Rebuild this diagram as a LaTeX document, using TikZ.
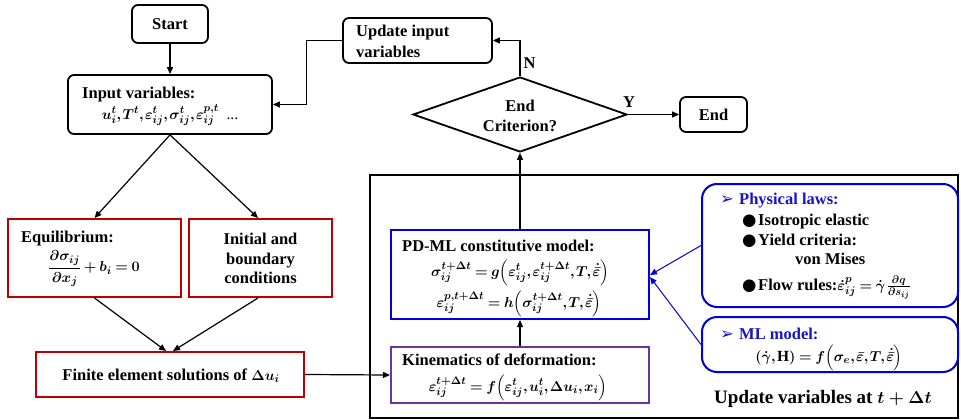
\documentclass[tikz,border=0pt]{standalone}
\usepackage{amsmath}
\usepackage{fontspec}
\setmainfont{Liberation Serif}
\newfontfamily\symfont{DejaVu Sans}
\usetikzlibrary{arrows.meta,shapes.geometric,calc}

\definecolor{boxred}{RGB}{192,0,0}
\definecolor{boxblue}{RGB}{0,0,224}
\definecolor{boxpurple}{RGB}{112,48,160}
\definecolor{lawblue}{RGB}{20,20,200}

\newcommand\figfont{\fontsize{16.5}{19.5}\selectfont\bfseries\boldmath}
\newcommand\bigfigfont{\fontsize{19}{22}\selectfont\bfseries\boldmath}
% slightly smaller, tighter setting for the formulas
\newcommand\eqnfont{\fontsize{15.5}{18}\selectfont\bfseries\boldmath
  \thinmuskip=1.5mu \medmuskip=3mu plus 1mu \thickmuskip=4mu plus 2mu}
% tall, tight parentheses around function arguments
\newcommand\args[1]{\Bigl(#1\Bigr)}

\tikzset{
  every node/.style={font=\figfont, inner sep=0pt},
  roundbox/.style={draw, line width=1.8pt, rounded corners=6pt},
  redbox/.style={draw=boxred, line width=2pt},
  bluebox/.style={draw=boxblue, line width=2pt},
  purplebox/.style={draw=boxpurple, line width=2pt},
  lawbox/.style={draw=boxblue, line width=2pt, rounded corners=15pt},
  decision/.style={diamond, draw, line width=1.8pt},
  outerbox/.style={draw, line width=2.5pt},
  arr/.style={-{Triangle[length=7pt,width=6pt]}, line width=1.2pt},
  bluearr/.style={-{Triangle[length=7pt,width=6pt]}, draw=boxblue, line width=1pt},
  txt/.style={anchor=base},
  txtl/.style={anchor=base west},
  eqn/.style={anchor=base, font=\eqnfont},
}

\begin{document}
\begin{tikzpicture}[x=1pt, y=-1pt]
\useasboundingbox (0,0) rectangle (961,420);

% ---- boxes ----
\node[roundbox, minimum width=76, minimum height=38] (start) at (170,24) {};
\node[roundbox, minimum width=204, minimum height=59] (inp) at (170,104.5) {};
\node[roundbox, minimum width=149, minimum height=45] (upd) at (417.5,40.5) {};
\node[decision, minimum width=214, minimum height=75] (dia) at (520,114.5) {};
\node[roundbox, minimum width=67, minimum height=35] (endb) at (713.5,114.5) {};
\node[redbox, minimum width=173, minimum height=78] (eq) at (94.5,258) {};
\node[redbox, minimum width=143, minimum height=78] (ini) at (260.5,258) {};
\node[redbox, minimum width=268, minimum height=45] (fe) at (170,374.5) {};
\node[outerbox, minimum width=588, minimum height=243] (outer) at (664,296.5) {};
\node[bluebox, minimum width=258, minimum height=89] (pd) at (520,274.5) {};
\node[purplebox, minimum width=258, minimum height=56] (kin) at (520,375) {};
\node[lawbox, minimum width=256, minimum height=123] (phys) at (830,245.5) {};
\node[lawbox, minimum width=256, minimum height=55] (ml) at (830,344.5) {};

% ---- texts ----
\node (tStart) at (170,24) {Start};
\node[txtl] (tInpA) at (82,98) {Input variables:};
\node[eqn] (tInpB) at (170,119) {$u_i^t, T^t, \varepsilon_{ij}^t, \sigma_{ij}^t, \varepsilon_{ij}^{p,t}$\ \ {\mdseries ...}};
\node[txtl] (tUpdA) at (356,37) {Update input};
\node[txtl] (tUpdB) at (356,58) {variables};
\node[txt] (tDiaA) at (520,111) {End};
\node[txt] (tDiaB) at (520,131) {Criterion?};
\node (tEnd) at (713.5,115) {End};
\node (tN) at (529.5,63) {N};
\node (tY) at (629,102) {Y};

\node[txtl] (tEqA) at (21,242) {Equilibrium:};
\node[font=\eqnfont] (tEqB) at (94,269) {$\dfrac{\partial\sigma_{ij}}{\partial x_j} + b_i = 0$};
\node[txt] (tIniA) at (260.5,244) {Initial and};
\node[txt] (tIniB) at (260.5,264) {boundary};
\node[txt] (tIniC) at (260.5,283) {conditions};
\node[txt] (tFe) at (171,380) {Finite element solutions of {\eqnfont$\Delta u_i$}};

\node[txtl] (tPdA) at (402,251) {PD-ML constitutive model:};
\node[eqn] (tPdB) at (520,276) {$\sigma_{ij}^{t+\Delta t} = g\args{\varepsilon_{ij}^t, \varepsilon_{ij}^{t+\Delta t}, T, \dot{\bar{\varepsilon}}}$};
\node[eqn] (tPdC) at (519,307) {$\varepsilon_{ij}^{p,t+\Delta t} = h\args{\sigma_{ij}^{t+\Delta t}, T, \dot{\bar{\varepsilon}}}$};
\node[txtl] (tKinA) at (402,365) {Kinematics of deformation:};
\node[eqn] (tKinB) at (518,391) {$\varepsilon_{ij}^{t+\Delta t} = f\args{\varepsilon_{ij}^t, u_i^t, \Delta u_i, x_i}$};

\node[txtl, text=lawblue] (tPhA) at (720,204) {{\symfont\mdseries ➢}};
\node[txtl, text=lawblue] (tPhB) at (739,204) {Physical laws:};
\node[txtl] (tPhC) at (742,225) {{\symfont\mdseries ●}};
\node[txtl] (tPhD) at (758,225) {Isotropic elastic};
\node[txtl] (tPhE) at (742,245) {{\symfont\mdseries ●}};
\node[txtl] (tPhF) at (758,245) {Yield criteria:};
\node[txtl] (tPhG) at (795,264) {von Mises};
\node[txtl] (tPhH) at (742,290) {{\symfont\mdseries ●}};
\node[txtl] (tPhI) at (758,290) {Flow rules:{\eqnfont$\dot{\varepsilon}_{ij}^{p} = \dot{\gamma}\,\frac{\partial q}{\partial s_{ij}}$}};

\node[txtl, text=lawblue] (tMlA) at (720,339) {{\symfont\mdseries ➢}};
\node[txtl, text=lawblue] (tMlB) at (739,339) {ML model:};
\node[eqn] (tMlC) at (829,361) {$(\dot{\gamma}, \mathrm{H}) = f\args{\sigma_e, \bar{\varepsilon}, T, \dot{\bar{\varepsilon}}}$};

\node[txt, font=\bigfigfont] (tOuter) at (823,403) {Update variables at $t+\Delta t$};

% ---- connectors ----
\draw[arr] (start) -- (inp);
\draw[arr] (inp.south) -- (eq.north);
\draw[arr] (inp.south) -- ($(ini.north)+(-2.5,0)$);
\draw[arr] (eq.south) -- ($(fe.north)+(-4,0)$);
\draw[arr] ($(ini.south)+(-2.5,0)$) -- ($(fe.north)+(3,0)$);
\draw[arr] (fe.east) -- (kin.west);
\draw[arr] (kin) -- (pd);
\draw[arr] (pd) -- (dia);
\draw[arr] (dia.east) -- (endb.west);
\draw[arr] (dia.north) |- (upd.east);
\draw[arr] (upd.west) -- ++(-36,0) |- (inp.east);
\draw[bluearr] (phys.west) -- ($(pd.east)+(0,0.5)$);
\draw[bluearr] (ml.west) -- ($(pd.east)+(0,2.5)$);
\end{tikzpicture}
\end{document}
